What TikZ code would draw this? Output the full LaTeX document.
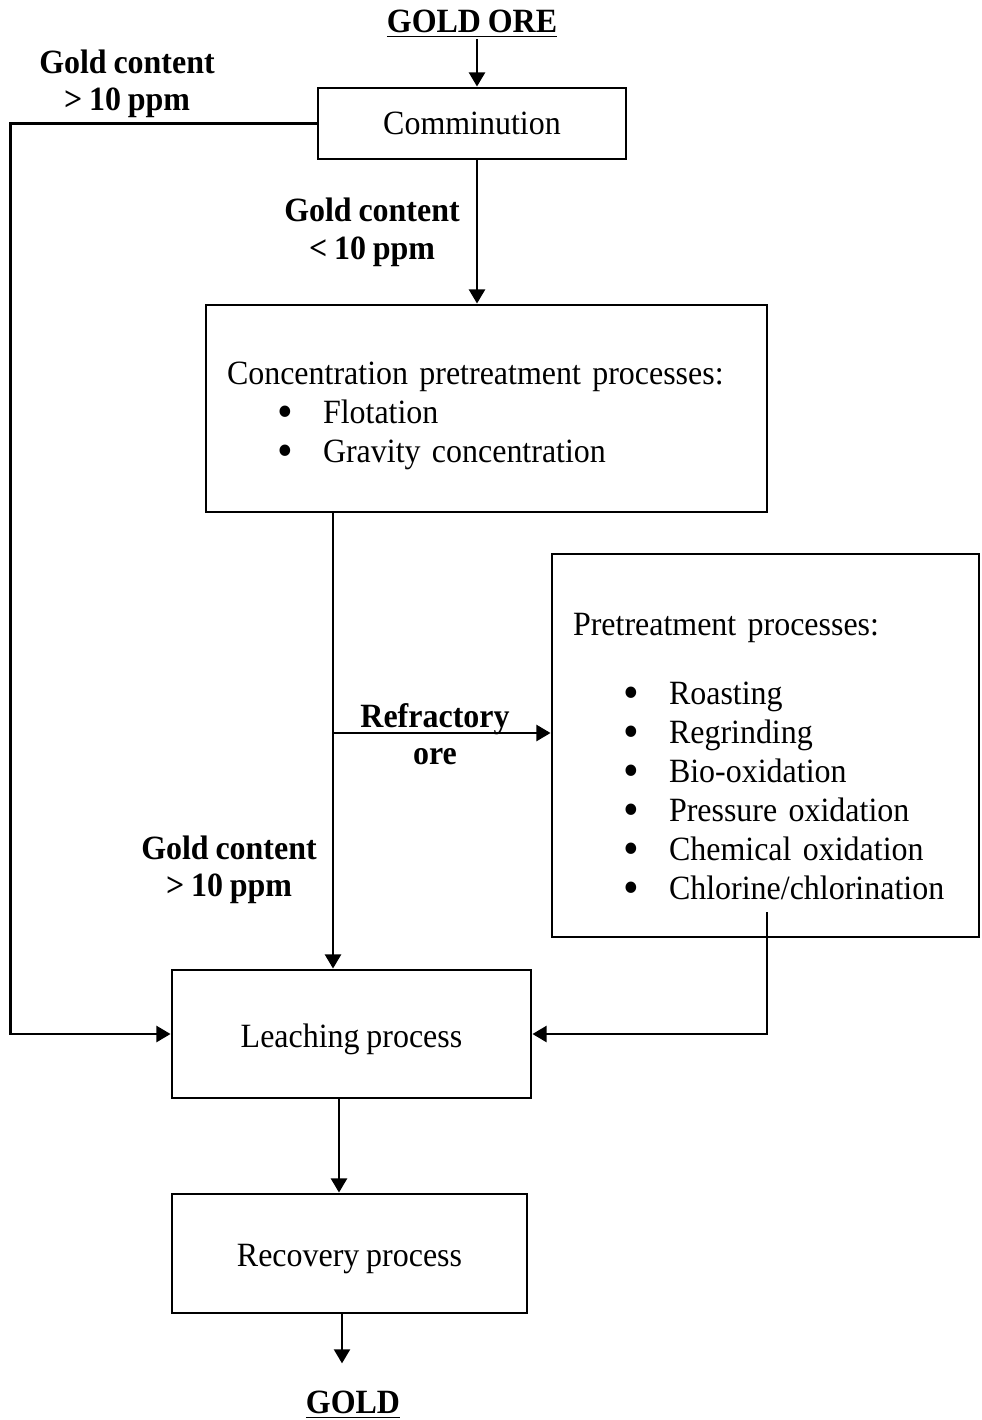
\documentclass[tikz,border=0pt]{standalone}
\usepackage{fontspec}
\setmainfont{Liberation Serif}[FakeStretch=0.94, WordSpace=0.85]
\usepackage{tikz}
\usetikzlibrary{calc, positioning, arrows.meta}
\newlength{\px}
\setlength{\px}{0.3529pt}
\newcommand{\bulletitem}[1]{\hspace*{50\px}\makebox[46\px][l]{\raisebox{-4\px}[0pt][0pt]{\scalebox{1.4}{\textbullet}}}#1}
\tikzset{
    procbox/.style={draw=black, line width=1pt, inner sep=0pt, align=center, text depth=0pt, font=\fontsize{12}{13.8}\selectfont},
    listbox/.style={procbox, text depth=, align=left, inner xsep=21\px},
    flowarrow/.style={-{Triangle[length=5pt,width=5.6pt]}, line width=1pt},
    condlabel/.style={font=\fontsize{12}{13.2}\selectfont\bfseries, align=center},
    endlabel/.style={font=\fontsize{12}{13.8}\selectfont\bfseries, inner sep=0pt}
}
\begin{document}
\begin{tikzpicture}[x=0.3529pt,y=-0.3529pt]
            \useasboundingbox (0,0) rectangle (981,1420);
            \node[endlabel] (ore) at (472,24) {\underline{GOLD ORE}};
            \node[procbox, minimum width=308\px, minimum height=71\px] (comm) at (472,123.5) {Comminution};
            \node[listbox, text width=519\px, minimum height=207\px] (conc) at (486.5,408.5) {\rule{0pt}{38\px}Concentration pretreatment processes:\\
                \bulletitem{Flotation}\\
                \bulletitem{Gravity concentration}};
            \node[listbox, text width=385\px, minimum height=383\px] (pre) at (765.5,745.5) {\rule{0pt}{44\px}Pretreatment processes:\\[30\px]
                \bulletitem{Roasting}\\
                \bulletitem{Regrinding}\\
                \bulletitem{Bio-oxidation}\\
                \bulletitem{Pressure oxidation}\\
                \bulletitem{Chemical oxidation}\\
                \bulletitem{Chlorine/chlorination}};
            \node[procbox, minimum width=359\px, minimum height=128\px] (leach) at (351.5,1034) {\raisebox{-3\px}{Leaching process}};
            \node[procbox, minimum width=355\px, minimum height=119\px] (rec) at (349.5,1253.5) {\raisebox{-3\px}{Recovery process}};
            \node[endlabel] (gold) at (353,1405) {\underline{GOLD}};
            % condition labels
            \node[condlabel] (high1) at (127,84) {Gold content\\> 10 ppm};
            \node[condlabel] (low) at (372,232.5) {Gold content\\< 10 ppm};
            \node[condlabel] (refr) at (435,734) {Refractory\\ore};
            \node[condlabel] (high2) at (229,870) {Gold content\\> 10 ppm};
            \coordinate (split) at (333,733);
            \coordinate (preout) at (767,912);
            \draw[flowarrow] ([xshift=5\px]ore.south) -- ([xshift=5\px]comm.north);
            \draw[flowarrow] ([xshift=5\px]comm.south) -- ([xshift=5\px]comm.south |- conc.north);
            \draw[flowarrow] (comm.west) -- ++(-306,0) |- (leach.west);
            \draw[flowarrow] (conc.south -| split) -- (leach.north -| split);
            \draw[flowarrow] (split) -- (pre.west |- split);
            \draw[flowarrow] (preout) |- (leach.east);
            \draw[flowarrow] ([xshift=-12.5\px]leach.south) -- ([xshift=-12.5\px]leach.south |- rec.north);
            \draw[flowarrow] ([xshift=-7.5\px]rec.south) -- ++(0,49);
        \end{tikzpicture}
\end{document}
